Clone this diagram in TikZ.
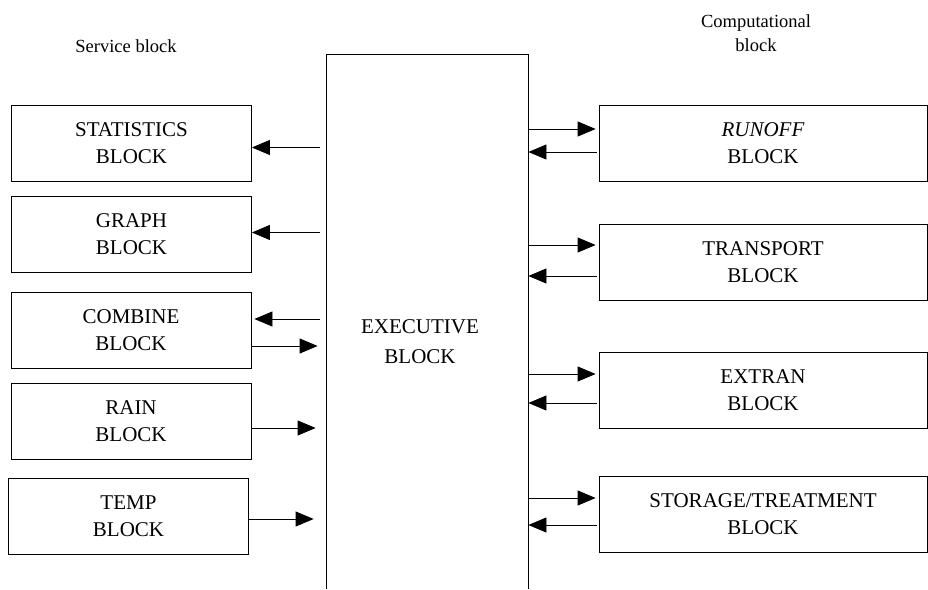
\documentclass[tikz,border=0pt]{standalone}
\usepackage{fontspec}
\setmainfont{Liberation Serif}
\usetikzlibrary{arrows.meta,calc,positioning}

\begin{document}
\begin{tikzpicture}[x=1pt,y=-1pt,line width=0.8pt,
	blk/.style={draw,rectangle,minimum width=240pt,minimum height=76pt,
		align=center,font=\fontsize{21}{27}\selectfont},
	cblk/.style={blk,minimum width=328pt},
	arr/.style={-{Triangle[length=18pt,width=15pt]}}]
	\useasboundingbox (0,0) rectangle (928,589);
	% headings
	\node[font=\fontsize{18.5}{24}\selectfont] (serv) at (126,46) {Service block};
	\node[font=\fontsize{18.5}{24}\selectfont,align=center] (comp) at (756,33) {Computational\\block};
	% executive block (open at the bottom)
	\node[minimum width=201pt,minimum height=534pt,inner sep=0pt] (exec) at (427.5,322) {};
	\draw (exec.south west) -- (exec.north west) -- (exec.north east) -- (exec.south east);
	\node[font=\fontsize{21}{30}\selectfont,align=center] (exectxt) at (420,342) {EXECUTIVE\\BLOCK};
	% service blocks
	\node[blk] (stat) at (131.5,143.5) {STATISTICS\\BLOCK};
	\node[blk] (graph) at (131.5,234.5) {GRAPH\\BLOCK};
	\node[blk] (comb) at (131,330.5) {COMBINE\\BLOCK};
	\node[blk] (rain) at (131,421.5) {RAIN\\BLOCK};
	\node[blk] (temp) at (128.5,516) {TEMP\\BLOCK};
	% computational blocks
	\node[cblk] (runoff) at (763,143.5) {\textit{RUNOFF}\\BLOCK};
	\node[cblk] (transp) at (763,262) {TRANSPORT\\BLOCK};
	\node[cblk] (extran) at (763,390.5) {EXTRAN\\BLOCK};
	\node[cblk] (stor) at (763,514.5) {STORAGE/TREATMENT\\BLOCK};
	% left arrows
	\draw[arr] ($(stat.east -| exec.west)+(-7,4)$) -- ($(stat.east)+(0,4)$);
	\draw[arr] ($(graph.east -| exec.west)+(-7,-2)$) -- ($(graph.east)+(0,-2)$);
	\draw[arr] ($(comb.east -| exec.west)+(-7,-11.5)$) -- ($(comb.east)+(3,-11.5)$);
	\draw[arr] ($(comb.east)+(0,15.5)$) -- ($(comb.east -| exec.west)+(-9,15.5)$);
	\draw[arr] ($(rain.east)+(0,6.5)$) -- ($(rain.east -| exec.west)+(-11,6.5)$);
	\draw[arr] ($(temp.east)+(-1,3)$) -- ($(temp.east -| exec.west)+(-13,3)$);
	% right arrows
	\draw[arr] ($(runoff.west -| exec.east)+(0,-14.5)$) -- ($(runoff.west)+(-3,-14.5)$);
	\draw[arr] ($(runoff.west)+(-2,8.5)$) -- ($(runoff.west -| exec.east)+(0,8.5)$);
	\draw[arr] ($(transp.west -| exec.east)+(0,-17)$) -- ($(transp.west)+(-3,-17)$);
	\draw[arr] ($(transp.west)+(-2,14)$) -- ($(transp.west -| exec.east)+(0,14)$);
	\draw[arr] ($(extran.west -| exec.east)+(0,-16.5)$) -- ($(extran.west)+(-3,-16.5)$);
	\draw[arr] ($(extran.west)+(-2,12.5)$) -- ($(extran.west -| exec.east)+(0,12.5)$);
	\draw[arr] ($(stor.west -| exec.east)+(0,-16.5)$) -- ($(stor.west)+(-3,-16.5)$);
	\draw[arr] ($(stor.west)+(-2,10.5)$) -- ($(stor.west -| exec.east)+(0,10.5)$);
\end{tikzpicture}
\end{document}
